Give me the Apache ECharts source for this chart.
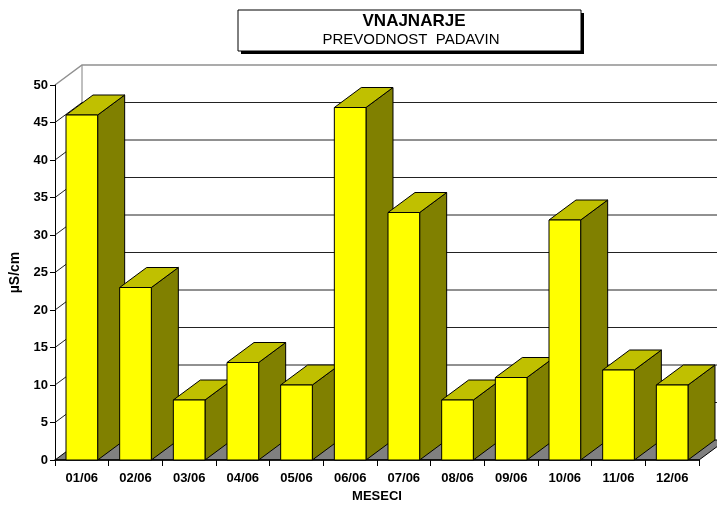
<!DOCTYPE html>
<html>
<head>
<meta charset="utf-8">
<script src="https://cdn.jsdelivr.net/npm/echarts@6/dist/echarts.min.js"></script>
<style>
  html, body { margin: 0; padding: 0; background: #fff; }
  #main { width: 717px; height: 506px; }
</style>
</head>
<body>
<div id="main"></div>
<script>
// podatki
var months = ['01/06', '02/06', '03/06', '04/06', '05/06', '06/06',
              '07/06', '08/06', '09/06', '10/06', '11/06', '12/06'];
var conductivity = [46, 23, 8, 13, 10, 47, 33, 8, 11, 32, 12, 10];
var yTicks = [0, 5, 10, 15, 20, 25, 30, 35, 40, 45, 50];

// 3D globina (px)
var DX = 27, DY = 20;
var FONT = 'Liberation Sans, Arial, sans-serif';

var myChart = echarts.init(document.getElementById('main'));

// stene in mreza
function renderGrid(params, api) {
  var cs = params.coordSys;
  var t = api.value(0);
  var y = api.coord([0, t])[1];
  var x0 = cs.x, x1 = cs.x + cs.width;
  var children = [];
  if (t === 0) {
    // tla
    children.push({
      type: 'polygon',
      shape: { points: [[x0, y], [x1, y], [x1 + DX, y - DY], [x0 + DX, y - DY]] },
      style: { fill: '#808080', stroke: '#000', lineWidth: 1 }
    });
    // leva stena - zadnji rob
    var yTop = api.coord([0, yTicks[yTicks.length - 1]])[1];
    children.push({
      type: 'line',
      shape: { x1: x0 + DX, y1: y - DY, x2: x0 + DX, y2: yTop - DY },
      style: { stroke: '#808080', lineWidth: 1 }
    });
  } else if (t === yTicks[yTicks.length - 1]) {
    children.push({
      type: 'polyline',
      shape: { points: [[x0, y], [x0 + DX, y - DY], [x1 + DX + 40, y - DY]] },
      style: { stroke: '#909090', lineWidth: 1.5, fill: null }
    });
  } else {
    children.push({
      type: 'polyline',
      shape: { points: [[x0, y], [x0 + DX, y - DY], [x1 + DX + 40, y - DY]] },
      style: { stroke: '#222', lineWidth: 1, fill: null }
    });
  }
  return { type: 'group', children: children };
}

// 3D stolpci
function renderBar(params, api) {
  var idx = api.value(0);
  var v = api.value(1);
  var base = api.coord([idx, 0]);
  var top = api.coord([idx, v]);
  var bw = api.size([1, 0])[0] * 0.59;
  var l = base[0] - bw / 2, r = base[0] + bw / 2;
  var yb = base[1], yt = top[1];
  var st = { stroke: '#000', lineWidth: 1 };
  return {
    type: 'group',
    children: [
      {
        type: 'polygon',
        shape: { points: [[r, yb], [r + DX, yb - DY], [r + DX, yt - DY], [r, yt]] },
        style: Object.assign({ fill: '#808000' }, st)
      },
      {
        type: 'polygon',
        shape: { points: [[l, yt], [r, yt], [r + DX, yt - DY], [l + DX, yt - DY]] },
        style: Object.assign({ fill: '#C0C000' }, st)
      },
      {
        type: 'rect',
        shape: { x: l, y: yt, width: bw, height: yb - yt },
        style: Object.assign({ fill: '#FFFF00' }, st)
      }
    ]
  };
}

var option = {
  animation: false,
  backgroundColor: '#fff',
  textStyle: { fontFamily: FONT },
  grid: { left: 55, right: 18, top: 85, bottom: 46, outerBoundsMode: 'none', containLabel: false },
  graphic: [
    {
      type: 'rect',
      shape: { x: 241, y: 13, width: 343, height: 41 },
      style: { fill: '#000' },
      z: 10
    },
    {
      type: 'rect',
      shape: { x: 238, y: 10, width: 343, height: 41 },
      style: { fill: '#fff', stroke: '#000', lineWidth: 1 },
      z: 11
    },
    {
      type: 'text',
      x: 414, y: 21,
      style: {
        text: 'VNAJNARJE', fill: '#000', font: 'bold 17px ' + FONT,
        align: 'center', verticalAlign: 'middle'
      },
      z: 12
    },
    {
      type: 'text',
      x: 411, y: 40,
      style: {
        text: 'PREVODNOST  PADAVIN', fill: '#000', font: '15px ' + FONT,
        align: 'center', verticalAlign: 'middle'
      },
      z: 12
    }
  ],
  xAxis: {
    type: 'category',
    data: months,
    boundaryGap: true,
    name: 'MESECI',
    nameLocation: 'middle',
    nameGap: 30,
    nameTextStyle: { fontWeight: 'bold', fontSize: 13, color: '#000' },
    axisLine: { lineStyle: { color: '#000', width: 1.5 } },
    axisTick: { show: true, length: 6, alignWithLabel: false, lineStyle: { color: '#000' } },
    axisLabel: { color: '#000', fontWeight: 'bold', fontSize: 13, margin: 12 },
    splitLine: { show: false },
    z: 1
  },
  yAxis: {
    type: 'value',
    min: 0,
    max: 50,
    interval: 5,
    name: 'µS/cm',
    nameLocation: 'middle',
    nameRotate: 90,
    nameGap: 31,
    nameTextStyle: { fontWeight: 'bold', fontSize: 14, color: '#000' },
    axisLine: { show: true, lineStyle: { color: '#000', width: 1 } },
    axisTick: { show: true, length: 5, lineStyle: { color: '#000' } },
    axisLabel: { color: '#000', fontWeight: 'bold', fontSize: 13, margin: 7 },
    splitLine: { show: false }
  },
  series: [
    {
      type: 'custom',
      name: 'mreza',
      renderItem: renderGrid,
      data: yTicks.map(function (t) { return [t]; }),
      encode: { y: 0 },
      clip: false,
      silent: true,
      z: 0
    },
    {
      type: 'custom',
      name: 'prevodnost',
      renderItem: renderBar,
      data: conductivity.map(function (v, i) { return [i, v]; }),
      encode: { x: 0, y: 1 },
      clip: false,
      z: 2
    }
  ]
};

myChart.setOption(option);
window.addEventListener('resize', function () { myChart.resize(); });
</script>
</body>
</html>
